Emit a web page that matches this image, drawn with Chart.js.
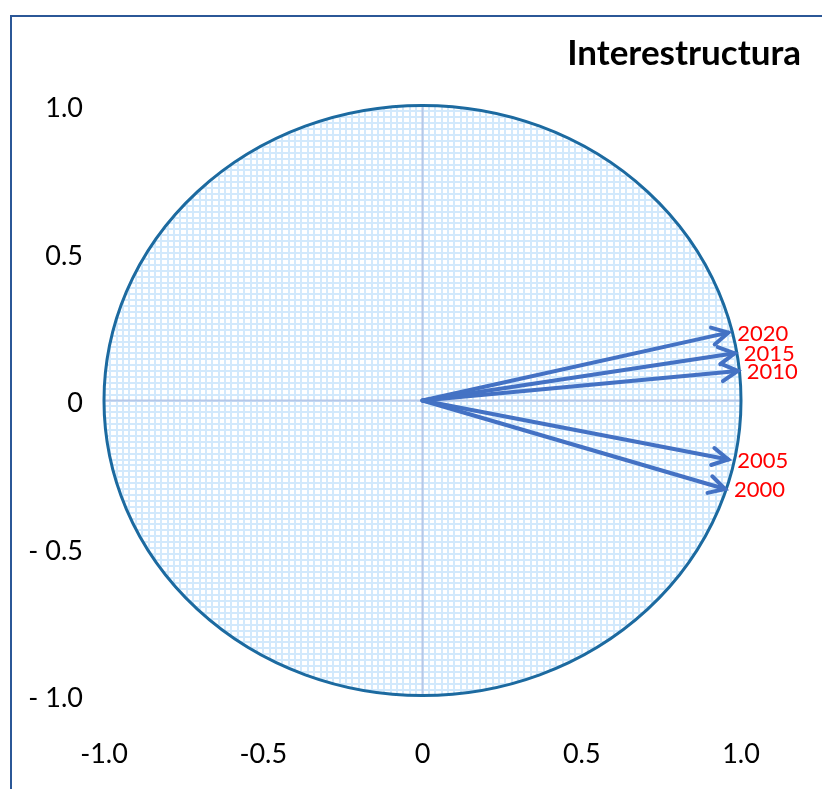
<!DOCTYPE html>
<html>
<head>
<meta charset="utf-8">
<title>Interestructura</title>
<script src="https://cdn.jsdelivr.net/npm/chart.js@4.4.1/dist/chart.umd.min.js"></script>
<style>
  html, body { margin: 0; padding: 0; background: #fff; overflow: hidden; }
  #wrap { position: relative; width: 822px; height: 789px; overflow: hidden; }
  #frame { position: absolute; left: 10px; top: 15px; width: 860px; height: 820px;
           border-left: 2px solid #2b5797; border-top: 2px solid #2b5797; }
  #chart { position: absolute; left: 0; top: 0; }
</style>
</head>
<body>
<div id="wrap">
  <div id="frame"></div>
  <canvas id="chart" width="822" height="789"></canvas>
</div>
<script>
// Correlation-circle vectors, one per year
const years = ['2000', '2005', '2010', '2015', '2020'];
const xVals = [0.95, 0.96, 0.99, 0.98, 0.96];
const yVals = [-0.30, -0.20, 0.10, 0.16, 0.23];
const tickVals = [-1, -0.5, 0, 0.5, 1];
const chartTitle = 'Interestructura';

const FONT = 'Lato, "Open Sans", sans-serif';
const ARROW = '#4472c4';

const fmtX = (v) => (v === 0 ? '0' : v.toFixed(1));
const fmtY = (v) => (v === 0 ? '0' : v < 0 ? '- ' + Math.abs(v).toFixed(1) : v.toFixed(1));

/* unit circle with fine grid, drawn behind the vectors */
const circlePlugin = {
  id: 'circle',
  beforeDatasetsDraw(chart) {
    const { ctx } = chart;
    const sx = chart.scales.x, sy = chart.scales.y;
    const cx = sx.getPixelForValue(0), cy = sy.getPixelForValue(0);
    const rx = sx.getPixelForValue(1) - cx, ry = cy - sy.getPixelForValue(1);
    ctx.save();
    ctx.beginPath();
    ctx.ellipse(cx, cy, rx, ry, 0, 0, Math.PI * 2);
    ctx.fillStyle = '#ffffff';
    ctx.fill();
    ctx.clip();
    ctx.strokeStyle = '#d2e9fc';
    ctx.lineWidth = 2;
    for (let i = -50; i <= 50; i += 1) {
      const px = Math.round(sx.getPixelForValue(i / 50));
      const py = Math.round(sy.getPixelForValue(i / 50));
      ctx.beginPath(); ctx.moveTo(px, cy - ry); ctx.lineTo(px, cy + ry); ctx.stroke();
      ctx.beginPath(); ctx.moveTo(cx - rx, py); ctx.lineTo(cx + rx, py); ctx.stroke();
    }
    // axes through the origin
    ctx.strokeStyle = '#b6c8e8';
    ctx.lineWidth = 2;
    ctx.beginPath(); ctx.moveTo(cx, cy - ry); ctx.lineTo(cx, cy + ry); ctx.stroke();
    ctx.beginPath(); ctx.moveTo(cx - rx, cy); ctx.lineTo(cx + rx, cy); ctx.stroke();
    ctx.restore();
    ctx.save();
    ctx.beginPath();
    ctx.ellipse(cx, cy, rx, ry, 0, 0, Math.PI * 2);
    ctx.strokeStyle = '#1c6aa0';
    ctx.lineWidth = 3;
    ctx.stroke();
    ctx.restore();
  }
};

/* open arrowheads + year labels at each vector tip */
const arrowPlugin = {
  id: 'arrows',
  afterDatasetsDraw(chart) {
    const { ctx } = chart;
    const sx = chart.scales.x, sy = chart.scales.y;
    const x0 = sx.getPixelForValue(0), y0 = sy.getPixelForValue(0);
    ctx.save();
    years.forEach((yr, i) => {
      const px = sx.getPixelForValue(xVals[i]);
      const py = sy.getPixelForValue(yVals[i]);
      const a = Math.atan2(py - y0, px - x0);
      const len = 18, spread = 0.5;
      ctx.strokeStyle = ARROW;
      ctx.lineWidth = 4;
      ctx.lineCap = 'round';
      ctx.lineJoin = 'miter';
      ctx.beginPath();
      ctx.moveTo(px - len * Math.cos(a - spread), py - len * Math.sin(a - spread));
      ctx.lineTo(px, py);
      ctx.lineTo(px - len * Math.cos(a + spread), py - len * Math.sin(a + spread));
      ctx.stroke();
      ctx.fillStyle = '#ff0000';
      ctx.font = '22px ' + FONT;
      ctx.textAlign = 'left';
      ctx.textBaseline = 'middle';
      ctx.fillText(yr, px + 9, py + 1);
    });
    ctx.restore();
  },
  afterDraw(chart) {
    const { ctx } = chart;
    ctx.save();
    ctx.fillStyle = '#000';
    ctx.font = 'bold 35px ' + FONT;
    ctx.textAlign = 'right';
    ctx.textBaseline = 'alphabetic';
    ctx.fillText(chartTitle, 801, 65);
    ctx.restore();
  }
};

const datasets = years.map((yr, i) => ({
  label: yr,
  data: [{ x: 0, y: 0 }, { x: xVals[i], y: yVals[i] }],
  showLine: true,
  borderColor: ARROW,
  borderWidth: 4,
  borderCapStyle: 'round',
  pointRadius: 0,
  pointHoverRadius: 0
}));

new Chart(document.getElementById('chart'), {
  type: 'scatter',
  data: { datasets },
  options: {
    responsive: false,
    animation: false,
    layout: { padding: { top: 105.5, right: 81, bottom: 0, left: 0 } },
    plugins: { legend: { display: false }, title: { display: false }, tooltip: { enabled: false } },
    scales: {
      x: {
        type: 'linear', min: -1, max: 1, position: 'bottom',
        grid: { display: false, drawTicks: false },
        border: { display: false },
        afterBuildTicks: (s) => { s.ticks = tickVals.map(v => ({ value: v })); },
        afterFit: (s) => { s.height = 93.5; },
        ticks: { callback: fmtX, color: '#000', font: { family: FONT, size: 27 }, padding: 43, maxRotation: 0, autoSkip: false }
      },
      y: {
        type: 'linear', min: -1, max: 1, position: 'left',
        grid: { display: false, drawTicks: false },
        border: { display: false },
        afterBuildTicks: (s) => { s.ticks = tickVals.map(v => ({ value: v })); },
        afterFit: (s) => { s.width = 104; },
        ticks: { callback: fmtY, color: '#000', font: { family: FONT, size: 27 }, padding: 21, labelOffset: 3, autoSkip: false }
      }
    }
  },
  plugins: [circlePlugin, arrowPlugin]
});
</script>
</body>
</html>
